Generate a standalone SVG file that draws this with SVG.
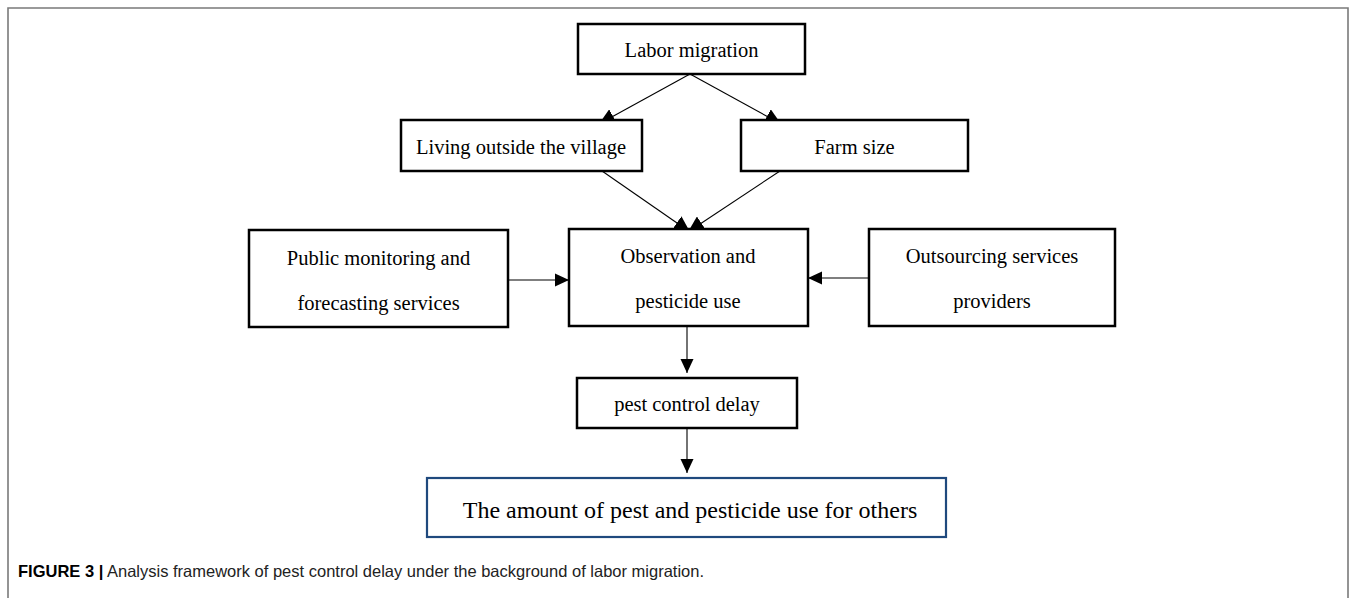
<svg xmlns="http://www.w3.org/2000/svg" width="1355" height="598" viewBox="0 0 1355 598">
<defs>
<style>
.box{fill:#fff;stroke:#000;stroke-width:2.5}
.blue{fill:#fff;stroke:#1f497d;stroke-width:2.2}
.t{font-family:"Liberation Serif","Times New Roman",serif;font-size:20.5px;fill:#000;text-anchor:middle}
.big{font-size:24px}
.c{stroke:#000;stroke-width:1.1;fill:none}
.frame{stroke:#7a7a7a;stroke-width:1.6;fill:none}
.cap{font-family:"Liberation Sans",Arial,sans-serif;font-size:16.5px;fill:#222}
</style>
<marker id="ah" viewBox="0 0 16 16" refX="16" refY="8" markerWidth="16" markerHeight="16" markerUnits="userSpaceOnUse" orient="auto">
<path d="M0,0 L16,8 L0,16 Z" fill="#000"/>
</marker>
<marker id="ahs" viewBox="0 0 14 14" refX="14" refY="7" markerWidth="14" markerHeight="14" markerUnits="userSpaceOnUse" orient="auto">
<path d="M0,0.5 L14,7 L0,13.5 Z" fill="#000"/>
</marker>
</defs>
<rect width="1355" height="598" fill="#fff"/>
<path class="frame" d="M8,598 L8,8 L1348,8 L1348,598"/>

<g id="connectors">
<line class="c" x1="690" y1="74" x2="599" y2="124" marker-end="url(#ah)"/>
<line class="c" x1="690" y1="74" x2="781" y2="124" marker-end="url(#ah)"/>
<line class="c" x1="602" y1="171" x2="690" y2="232" marker-end="url(#ah)"/>
<line class="c" x1="780" y1="171" x2="688" y2="232" marker-end="url(#ah)"/>
<line class="c" x1="508" y1="280" x2="569" y2="280" marker-end="url(#ahs)"/>
<line class="c" x1="869" y1="278" x2="808" y2="278" marker-end="url(#ahs)"/>
<line class="c" x1="687" y1="326" x2="687" y2="373" marker-end="url(#ahs)"/>
<line class="c" x1="687" y1="428" x2="687" y2="473" marker-end="url(#ahs)"/>
</g>

<g id="labor">
<rect class="box" x="578" y="24" width="227" height="50"/>
<text class="t" x="691.5" y="57">Labor migration</text>
</g>
<g id="living">
<rect class="box" x="401" y="120" width="241" height="51"/>
<text class="t" x="521" y="154">Living outside the village</text>
</g>
<g id="farm">
<rect class="box" x="741" y="120" width="227" height="51"/>
<text class="t" x="854.5" y="154">Farm size</text>
</g>
<g id="public">
<rect class="box" x="249" y="230" width="259" height="97"/>
<text class="t" x="378.5" y="265">Public monitoring and</text>
<text class="t" x="378.5" y="310">forecasting services</text>
</g>
<g id="observation">
<rect class="box" x="569" y="229" width="239" height="97"/>
<text class="t" x="688" y="263">Observation and</text>
<text class="t" x="688" y="308">pesticide use</text>
</g>
<g id="outsourcing">
<rect class="box" x="869" y="229" width="246" height="97"/>
<text class="t" x="992" y="263">Outsourcing services</text>
<text class="t" x="992" y="308">providers</text>
</g>
<g id="delay">
<rect class="box" x="577" y="378" width="220" height="50"/>
<text class="t" x="687" y="411">pest control delay</text>
</g>
<g id="amount">
<rect class="blue" x="427" y="478" width="519" height="59"/>
<text class="t big" x="690" y="518">The amount of pest and pesticide use for others</text>
</g>

<text class="cap" x="18" y="577"><tspan font-weight="bold" fill="#000">FIGURE 3 |</tspan> Analysis framework of pest control delay under the background of labor migration.</text>
</svg>
